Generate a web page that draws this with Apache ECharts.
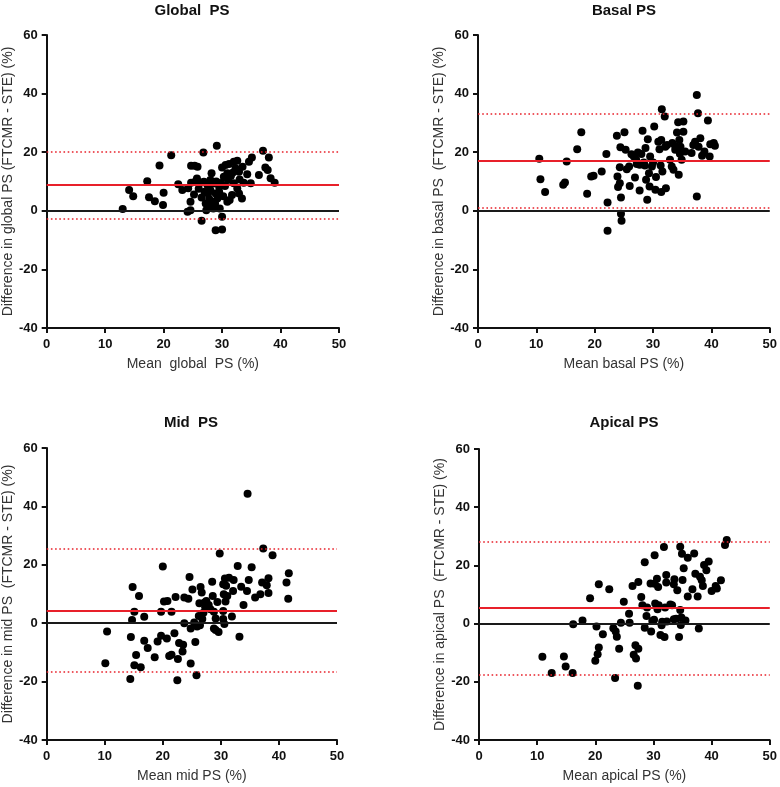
<!DOCTYPE html>
<html>
<head>
<meta charset="utf-8">
<script src="https://cdn.jsdelivr.net/npm/echarts@6/dist/echarts.min.js"></script>
<style>
html,body{margin:0;padding:0;background:#fff;}
#chart{width:780px;height:787px;}
</style>
</head>
<body>
<div id="chart"></div>
<script>
// ---- Data (mean, difference) ----
const globalPts = [
[13.0,0.6],[14.1,7.1],[14.8,5.0],[17.2,10.1],[17.5,4.6],[18.5,3.3],[19.3,15.5],[20.0,6.2],[19.9,2.0],[21.3,19.0],
[22.5,9.1],[23.2,7.1],[24.2,7.7],[24.1,-0.3],[24.6,0.2],[24.6,3.1],[24.7,15.4],[25.3,15.4],[24.7,9.6],[25.2,5.6],
[25.4,9.9],[25.8,15.0],[26.1,9.3],[26.3,9.7],[26.5,-3.4],[26.8,19.9],[26.9,9.9],[27.0,6.5],[27.2,2.5],[27.3,0.2],
[27.5,8.8],[27.6,5.9],[27.8,4.0],[28.0,7.0],[28.2,12.8],[28.3,3.1],[28.5,9.3],[28.9,-6.6],[28.9,5.9],[29.1,22.2],
[29.2,4.2],[29.5,8.2],[29.6,0.8],[30.0,-6.4],[30.0,-2.0],[30.0,14.8],[30.3,11.6],[30.6,15.6],[30.9,12.8],[31.2,16.0],
[31.5,11.9],[30.9,3.1],[31.3,3.7],[31.7,5.4],[32.0,16.7],[32.0,9.4],[32.6,17.1],[32.6,7.6],[32.9,13.3],[32.9,5.9],
[33.0,10.7],[33.4,4.2],[33.7,9.6],[34.3,12.5],[34.6,16.7],[34.9,9.4],[35.1,18.2],[36.3,12.2],[37.0,20.5],[37.4,14.8],
[37.8,13.9],[38.0,18.2],[38.3,11.1],[39.0,9.6],[26.0,7.5],[26.5,4.5],[27.8,1.5],[28.5,0.8],[28.8,2.5],[29.0,10.0],
[29.8,9.5],[30.5,8.5],[31.0,10.5],[30.2,5.0],[29.5,6.5],[28.0,10.5],[25.7,11.0],[31.8,13.0],[32.3,14.5],[33.5,15.0]
];
const basalPts = [
[10.5,17.8],[10.7,10.8],[11.5,6.4],[14.6,8.9],[14.9,9.7],[15.2,16.8],[17.0,21.0],[17.7,26.8],[18.7,5.8],[19.4,11.7],
[19.8,12.0],[21.2,13.4],[22.0,19.4],[22.2,2.8],[22.2,-6.8],[23.8,25.6],[23.9,11.7],[24.0,8.1],[24.3,9.4],[24.3,14.9],
[24.4,21.7],[24.5,-1.0],[24.6,-3.4],[24.5,4.5],[25.1,26.8],[25.3,20.8],[25.5,14.2],[25.9,15.1],[26.0,8.5],[26.3,19.3],
[26.7,18.5],[26.9,11.4],[27.1,17.4],[27.4,19.9],[27.7,15.7],[27.7,6.9],[28.0,19.4],[28.2,27.3],[28.4,16.5],[28.7,21.4],
[28.8,10.6],[29.0,3.8],[29.1,24.4],[29.3,12.8],[29.4,8.3],[29.5,18.5],[29.8,15.1],[30.2,28.8],[30.4,7.2],[30.5,11.5],
[30.9,23.6],[31.1,21.0],[31.3,15.5],[31.4,24.2],[31.4,6.4],[31.5,34.7],[31.6,13.4],[32.0,32.2],[32.1,21.9],[32.2,7.7],
[32.4,22.5],[32.9,17.4],[33.2,15.1],[33.3,23.1],[33.5,14.0],[33.8,20.8],[34.1,26.7],[34.3,30.2],[34.4,12.3],[34.5,24.2],
[34.7,21.9],[34.9,17.4],[35.2,27.0],[35.2,30.5],[35.5,20.2],[36.6,19.7],[36.9,22.5],[37.2,23.6],[37.5,4.9],[37.5,39.5],
[37.7,33.3],[37.8,21.9],[38.1,24.8],[38.4,18.8],[38.8,20.2],[39.4,30.8],[39.7,18.5],[39.8,22.7],[40.4,23.1],[40.6,22.2],
[27.2,16.0],[28.6,15.5],[30.0,16.5],[33.8,22.0],[34.6,19.5]
];
const midPts = [
[34.6,44.3],[37.3,25.6],[38.9,23.3],[29.8,23.9],[32.9,19.6],[35.3,19.2],[20.0,19.4],[41.7,17.1],[41.3,13.9],[41.6,8.4],
[38.2,15.4],[37.1,13.9],[37.9,13.0],[38.2,10.3],[36.8,9.9],[35.9,8.8],[34.8,14.8],[34.5,11.0],[33.9,6.2],[33.5,12.5],
[33.2,-4.6],[32.1,11.0],[31.9,2.3],[32.2,14.8],[31.4,15.6],[30.7,15.3],[30.4,13.3],[31.1,9.3],[30.8,7.4],[30.5,9.9],
[30.6,-0.3],[30.4,4.2],[30.4,1.4],[29.6,-3.0],[29.1,-2.3],[28.8,-1.8],[29.4,7.3],[29.1,1.6],[28.8,3.9],[28.6,9.3],
[28.5,14.2],[28.2,4.8],[27.9,6.2],[27.5,7.6],[27.2,7.1],[27.0,3.6],[26.8,1.4],[26.7,10.5],[26.5,12.4],[26.4,-0.7],
[26.2,2.5],[25.9,-1.1],[25.8,-17.8],[25.6,-6.4],[25.4,0.2],[25.1,11.5],[24.8,-1.8],[24.8,-13.8],[24.6,15.8],[24.4,8.4],
[23.7,8.8],[23.7,0.0],[23.4,-9.7],[23.5,-7.4],[22.8,-6.8],[22.6,-12.3],[22.5,-19.5],[22.2,9.0],[22.0,-3.4],[21.5,3.9],
[21.5,-10.8],[21.1,-11.2],[20.8,7.6],[20.2,7.4],[20.7,-5.2],[19.7,3.9],[19.7,-4.3],[19.1,-6.3],[18.6,-11.7],[17.4,-8.5],
[16.8,-6.0],[16.8,2.2],[16.2,-15.1],[15.9,9.3],[15.4,-10.9],[15.1,-14.4],[15.1,3.9],[14.8,12.4],[14.7,1.1],[14.5,-4.7],
[14.4,-19.1],[10.4,-2.8],[10.1,-13.7],[26.3,6.8],[27.3,5.5],[30.9,12.8]
];
const apicalPts = [
[42.6,28.7],[42.3,27.0],[41.6,14.9],[40.9,12.1],[40.7,12.9],[40.0,11.2],[39.5,21.3],[39.1,18.3],[38.7,20.1],[38.5,12.9],
[38.3,14.9],[38.0,16.1],[37.8,-1.7],[37.6,9.3],[37.2,17.1],[37.0,24.1],[36.7,11.8],[35.9,22.6],[35.9,9.3],[35.5,1.1],
[35.2,19.0],[35.0,15.0],[34.9,24.0],[34.8,2.1],[34.7,-0.5],[34.6,26.4],[34.6,4.7],[34.4,-4.6],[34.1,11.5],[33.9,1.7],
[33.6,15.2],[33.5,13.5],[33.5,1.5],[33.2,6.3],[32.9,6.6],[32.3,0.7],[32.2,14.1],[32.2,16.7],[32.0,5.5],[31.9,-4.6],
[31.8,26.3],[31.5,0.6],[31.4,-0.6],[31.2,-3.9],[30.9,6.3],[30.8,12.6],[30.7,4.9],[30.6,15.4],[30.3,6.9],[30.2,23.5],
[30.2,13.7],[30.1,1.3],[29.8,0.9],[29.6,-2.7],[29.5,13.8],[28.9,5.5],[28.8,2.6],[28.5,-1.4],[28.5,21.1],[28.1,6.3],
[27.9,9.1],[27.4,14.3],[27.4,-8.6],[27.3,-21.4],[27.0,-12.0],[26.9,-7.4],[26.6,-10.7],[26.4,12.9],[25.9,0.3],[25.8,3.4],
[24.9,7.5],[24.4,0.3],[24.1,-8.6],[23.7,-4.5],[23.5,-2.7],[23.4,-18.7],[23.1,-1.6],[22.4,11.8],[21.3,-3.7],[20.6,13.5],
[20.6,-8.2],[20.4,-10.5],[20.2,-1.0],[20.0,-12.8],[19.1,8.7],[17.8,1.1],[16.2,-0.2],[16.1,-17.0],[14.9,-14.7],[14.6,-11.3],
[12.5,-17.0],[10.9,-11.4]
];
// [mean bias, upper limit, lower limit]
const globalStats = [8.8, 20.2, -2.7];
const basalStats  = [17.1, 33.0, 1.1];
const midStats    = [4.3, 25.4, -16.7];
const apicalStats = [5.3, 28.2, -17.6];

const titles = ['Global  PS', 'Basal PS', 'Mid  PS', 'Apical PS'];
const xNames = ['Mean  global  PS (%)', 'Mean basal PS (%)', 'Mean mid PS (%)', 'Mean apical PS (%)'];
const yNames = ['Difference in global PS (FTCMR - STE) (%)', 'Difference in basal PS  (FTCMR - STE) (%)',
                'Difference in mid PS  (FTCMR - STE) (%)', 'Difference in apical PS  (FTCMR - STE) (%)'];
const xTicks = {min: 0, max: 50, interval: 10};
const yTicks = {min: -40, max: 60, interval: 20};

// ---- layout ----
const grids = [
  {left: 46, top: 35, width: 293, height: 293},
  {left: 478, top: 35, width: 293, height: 293},
  {left: 45, top: 448, width: 292, height: 292},
  {left: 479, top: 449, width: 293, height: 291}
];
const titlePos = [[192, 3], [624, 3], [191, 415], [624, 415]];
const pts = [globalPts, basalPts, midPts, apicalPts];
const stats = [globalStats, basalStats, midStats, apicalStats];
const FONT = '"Liberation Sans", Arial, sans-serif';

const option = {
  animation: false,
  backgroundColor: '#fff',
  title: titles.map((t, i) => ({
    text: t, left: titlePos[i][0], top: titlePos[i][1], textAlign: 'center', padding: 0,
    textStyle: {fontFamily: FONT, fontWeight: 'bold', fontSize: 15, color: '#111'}
  })),
  grid: grids.map(g => Object.assign({containLabel: false}, g)),
  xAxis: grids.map((g, i) => ({
    type: 'value', gridIndex: i, min: xTicks.min, max: xTicks.max, interval: xTicks.interval,
    name: xNames[i], nameLocation: 'middle', nameGap: 29,
    nameTextStyle: {fontFamily: FONT, fontSize: 14, color: '#333'},
    axisLine: {onZero: false, lineStyle: {color: '#111', width: 2}},
    axisTick: {show: true, length: 5, lineStyle: {color: '#111', width: 2}},
    axisLabel: {fontFamily: FONT, fontWeight: 'bold', fontSize: 13, color: '#111', margin: 10},
    splitLine: {show: false}
  })),
  yAxis: grids.map((g, i) => ({
    type: 'value', gridIndex: i, min: yTicks.min, max: yTicks.max, interval: yTicks.interval,
    name: yNames[i], nameLocation: 'middle', nameGap: 31,
    nameTextStyle: {fontFamily: FONT, fontSize: 14, color: '#333'},
    axisLine: {onZero: false, lineStyle: {color: '#111', width: 2}},
    axisTick: {show: true, length: 5, lineStyle: {color: '#111', width: 2}},
    axisLabel: {fontFamily: FONT, fontWeight: 'bold', fontSize: 13, color: '#111', margin: 9},
    splitLine: {show: false}
  })),
  series: []
};

pts.forEach((p, i) => {
  const s = stats[i];
  option.series.push({
    type: 'line', xAxisIndex: i, yAxisIndex: i, data: [], z: 1, silent: true,
    markLine: {
      silent: true, symbol: 'none', label: {show: false}, animation: false,
      data: [
        {yAxis: 0, lineStyle: {color: '#1a1a1a', width: 2, type: 'solid'}},
        {yAxis: s[0], lineStyle: {color: '#e8202a', width: 2, type: 'solid'}},
        {yAxis: s[1], lineStyle: {color: '#e8202a', width: 1.6, type: [1.6, 2.6]}},
        {yAxis: s[2], lineStyle: {color: '#e8202a', width: 1.6, type: [1.6, 2.6]}}
      ]
    }
  });
  option.series.push({
    type: 'scatter', xAxisIndex: i, yAxisIndex: i, data: p, z: 3,
    symbol: 'circle', symbolSize: 8, itemStyle: {color: '#000', opacity: 1}
  });
});

const chart = echarts.init(document.getElementById('chart'), null, {renderer: 'canvas'});
chart.setOption(option);
</script>
</body>
</html>
